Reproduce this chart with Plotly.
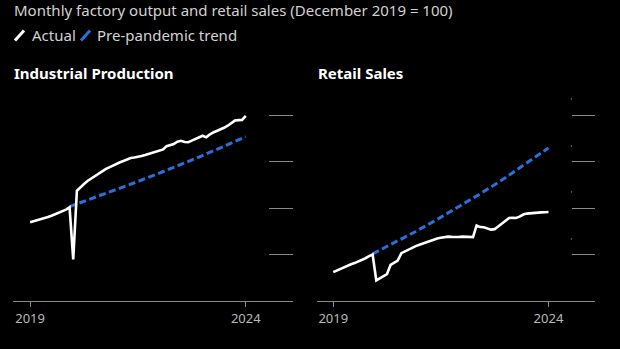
import pandas as pd
import plotly.graph_objects as go

# Monthly index, December 2019 = 100
months = pd.date_range("2019-01-01", "2024-01-01", freq="MS")

industrial_actual = [
    93.9, 94.3, 94.8, 95.3, 95.6, 96.1, 96.7, 97.3, 97.9, 98.5, 99.3, 100.3,
    77.9, 107.4, 109.0, 110.3, 111.6, 112.7, 113.7, 114.8, 115.8, 116.7, 117.5, 118.3,
    119.0, 119.7, 120.2, 120.9, 121.5, 121.7, 121.9, 122.4, 122.8, 123.3, 123.9, 124.4,
    124.6, 125.2, 126.6, 127.0, 127.5, 128.5, 128.9, 128.4, 128.3, 129.0, 129.8, 130.6,
    131.1, 130.4, 131.6, 132.5, 133.1, 133.9, 134.5, 135.4, 136.6, 137.6, 137.8, 137.9,
    139.6,
]

retail_actual = [
    92.4, 93.1, 93.9, 94.6, 95.3, 95.8, 96.3, 96.9, 97.6, 98.4, 99.3, 100.0,
    88.9, 89.8, 90.7, 91.6, 95.5, 96.6, 97.4, 100.6, 101.4, 102.2, 103.0, 103.6,
    104.2, 104.8, 105.3, 106.0, 106.3, 106.9, 107.2, 107.6, 107.7, 107.6, 107.4, 107.5,
    107.7, 107.6, 107.4, 107.5, 112.5, 111.8, 111.7, 111.2, 110.7, 110.9, 112.2, 113.4,
    114.6, 115.7, 115.8, 115.7, 116.3, 117.2, 117.6, 117.8, 117.9, 118.0, 118.1, 118.2,
    118.3,
]

# Pre-pandemic trend, sampled from December 2019 onward
trend_dates = pd.to_datetime([
    "2019-12-01", "2020-06-01", "2020-12-01", "2021-06-01", "2021-12-01",
    "2022-06-01", "2022-12-01", "2023-06-01", "2024-01-01",
])
industrial_trend = [100.6, 103.9, 107.3, 110.8, 114.4, 118.1, 121.9, 125.9, 130.7]
retail_trend = [100.3, 105.0, 109.9, 115.1, 120.5, 126.1, 132.0, 138.2, 145.8]

x_tick_vals = ["2019-01-01", "2024-01-01"]
x_tick_text = ["2019", "2024"]
industrial_y_ticks = [60, 80, 100, 120, 140]
retail_y_ticks = [80, 100, 120, 140, 160]

WIDTH, HEIGHT = 620, 349
FONT = "Noto Sans"
WHITE = "#ffffff"
BLUE = "#2a6fdb"
LABEL = "#b8b8b8"
RULE = "#8a8a8a"


def px_x(p):
    return p / WIDTH


def px_y(p):
    return 1 - p / HEIGHT


fig = go.Figure()

for xa, ya, actual, trend in (
    ("x", "y", industrial_actual, industrial_trend),
    ("x2", "y2", retail_actual, retail_trend),
):
    fig.add_trace(go.Scatter(
        x=trend_dates, y=trend, xaxis=xa, yaxis=ya, mode="lines",
        line=dict(color=BLUE, width=3, dash="7px,3.5px"),
        name="Pre-pandemic trend", showlegend=False, hoverinfo="skip",
    ))
    fig.add_trace(go.Scatter(
        x=months, y=actual, xaxis=xa, yaxis=ya, mode="lines",
        line=dict(color=WHITE, width=2.6),
        name="Actual", showlegend=False, hoverinfo="skip",
    ))

# Narrow strips at the right edge of each panel carry the short value rules
# as their horizontal grid lines.
for xa, ya in (("x3", "y3"), ("x4", "y4")):
    fig.add_trace(go.Scatter(x=[], y=[], xaxis=xa, yaxis=ya, mode="lines",
                             showlegend=False, hoverinfo="skip"))

# Scale: 2.325px per index point, bottom rule at 301px
PPU = 2.325
RULE_Y, TOP_Y = 301, 88
y_domain = [px_y(RULE_Y), px_y(TOP_Y)]
above = (RULE_Y - TOP_Y) / PPU
ind_range = [60, 60 + above]
ret_range = [80, 80 + above]

x_common = dict(
    type="date", tickvals=x_tick_vals, ticktext=x_tick_text,
    showgrid=False, zeroline=False, showline=True, linecolor=RULE, linewidth=1,
    ticks="outside", ticklen=5, tickcolor=RULE, tickwidth=1,
    tickfont=dict(family=FONT, size=13, color=LABEL), fixedrange=True,
)
# value labels sit just above each short rule, flush right
y_common = dict(
    side="right", showgrid=False, zeroline=False, showline=False, ticks="",
    ticklabelposition="inside top", ticklabelshift=-4,
    tickfont=dict(family=FONT, size=13, color=LABEL),
    domain=y_domain, fixedrange=True,
)
strip_x = dict(visible=False, showgrid=False, zeroline=False, range=[0, 1],
               fixedrange=True)
strip_y = dict(domain=y_domain, showgrid=True, gridcolor=RULE, gridwidth=1,
               zeroline=False, showline=False, ticks="", showticklabels=False,
               fixedrange=True)

fig.update_layout(
    width=WIDTH, height=HEIGHT,
    margin=dict(l=0, r=0, t=0, b=0),
    paper_bgcolor="#000000", plot_bgcolor="#000000",
    xaxis=dict(x_common, domain=[px_x(13), px_x(293)],
               range=["2018-08-09", "2025-02-04"]),
    xaxis2=dict(x_common, domain=[px_x(317), px_x(595)],
                range=["2018-08-16", "2025-01-30"]),
    yaxis=dict(y_common, anchor="x", range=ind_range, tickvals=industrial_y_ticks),
    yaxis2=dict(y_common, anchor="x2", range=ret_range, tickvals=retail_y_ticks),
    xaxis3=dict(strip_x, anchor="y3", domain=[px_x(269), px_x(293)]),
    yaxis3=dict(strip_y, anchor="x3", range=ind_range, tickvals=industrial_y_ticks),
    xaxis4=dict(strip_x, anchor="y4", domain=[px_x(572), px_x(595)]),
    yaxis4=dict(strip_y, anchor="x4", range=ret_range, tickvals=retail_y_ticks),
    showlegend=False,
)

annotations = [
    dict(text="Monthly factory output and retail sales (December 2019 = 100)",
         x=px_x(13), y=px_y(10), font=dict(family=FONT, size=15, color="#d2d2d2")),
    dict(text="Actual", x=px_x(31), y=px_y(35),
         font=dict(family=FONT, size=15, color="#d2d2d2")),
    dict(text="Pre-pandemic trend", x=px_x(96), y=px_y(35),
         font=dict(family=FONT, size=15, color="#d2d2d2")),
    dict(text="<b>Industrial Production</b>", x=px_x(13), y=px_y(73),
         font=dict(family=FONT, size=15, color=WHITE)),
    dict(text="<b>Retail Sales</b>", x=px_x(317), y=px_y(73),
         font=dict(family=FONT, size=15, color=WHITE)),
]
for a in annotations:
    fig.add_annotation(xref="paper", yref="paper", xanchor="left", yanchor="middle",
                       showarrow=False, borderpad=0, **a)

# Legend swatches drawn as short slanted strokes
for x0, color in ((15, WHITE), (81, BLUE)):
    fig.add_shape(type="line", xref="paper", yref="paper",
                  x0=px_x(x0), y0=px_y(40.5), x1=px_x(x0 + 9), y1=px_y(30.5),
                  line=dict(color=color, width=3))

fig.write_html("out.html")
